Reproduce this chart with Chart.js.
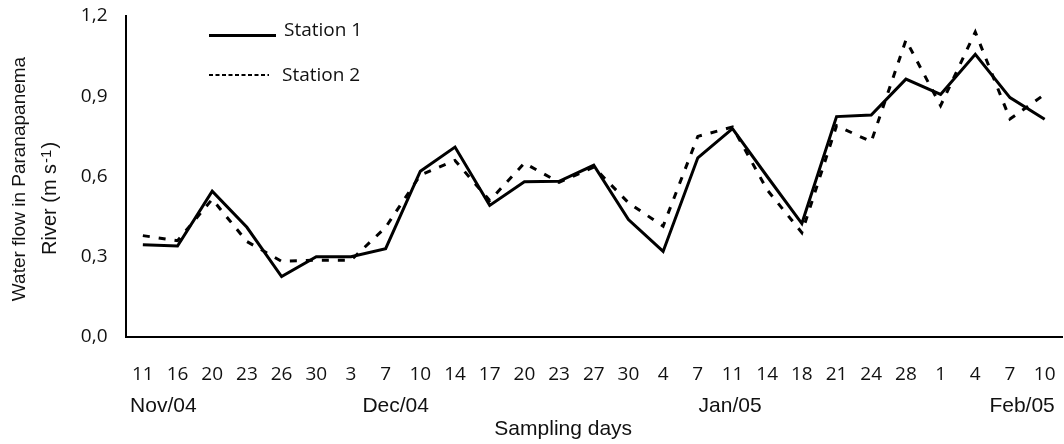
<!DOCTYPE html>
<html><head><meta charset="utf-8">
<script src="https://cdn.jsdelivr.net/npm/chart.js@4.4.1/dist/chart.umd.min.js"></script>
<style>html,body{margin:0;padding:0;background:#fff;}#wrap{width:1064px;height:444px;position:relative;}</style>
</head><body><div id="wrap"><canvas id="c"></canvas></div>
<script>
const days = ['11','16','20','23','26','30','3','7','10','14','17','20','23','27','30','4','7','11','14','18','21','24','28','1','4','7','10'];
const station1 = [0.345,0.34,0.545,0.41,0.226,0.30,0.30,0.33,0.62,0.71,0.492,0.58,0.582,0.642,0.439,0.32,0.67,0.779,0.60,0.424,0.824,0.83,0.964,0.907,1.057,0.895,0.814];
const station2 = [0.379,0.36,0.515,0.357,0.283,0.287,0.287,0.41,0.605,0.66,0.51,0.65,0.578,0.635,0.502,0.414,0.75,0.785,0.55,0.39,0.79,0.73,1.11,0.865,1.14,0.815,0.907];
const seriesNames = ['Station 1','Station 2'];
const yTickLabels = ['0,0','0,3','0,6','0,9','1,2'];
const months = ['Nov/04','Dec/04','Jan/05','Feb/05'];
const monthAt = [0.59, 7.29, 16.93, 25.35];
const xTitle = 'Sampling days';
const xTitleAt = 12.12;
const yTitle1 = 'Water flow in Paranapanema';
const yTitle2 = ['River (m s', '-1', ')'];

const TXT = '#111';
const tickFont = {family: '"Open Sans"', size: 19};

const extras = {
  id: 'extras',
  afterDraw(chart) {
    const ctx = chart.ctx;
    const xs = chart.scales.x;
    ctx.save();
    ctx.fillStyle = TXT;
    ctx.textBaseline = 'alphabetic';
    ctx.textAlign = 'center';
    ctx.font = '21px "Liberation Sans"';
    months.forEach((m, i) => {
      ctx.fillText(m, xs.getPixelForValue(monthAt[i]), xs.top + 74.5);
    });
    ctx.fillText(xTitle, xs.getPixelForValue(xTitleAt), xs.top + 98);

    // y axis title (two lines, rotated)
    ctx.save();
    ctx.translate(19.5, 179);
    ctx.rotate(-Math.PI / 2);
    ctx.textBaseline = 'middle';
    ctx.textAlign = 'center';
    ctx.font = '19px "Liberation Sans"';
    ctx.fillText(yTitle1, 0, 0);
    ctx.restore();
    ctx.save();
    ctx.translate(50.5, 255);
    ctx.rotate(-Math.PI / 2);
    ctx.textBaseline = 'middle';
    ctx.textAlign = 'left';
    let px = 0;
    ctx.font = '20px "Liberation Sans"';
    ctx.fillText(yTitle2[0], px, 0); px += ctx.measureText(yTitle2[0]).width + 1;
    ctx.font = '15px "Liberation Sans"';
    ctx.fillText(yTitle2[1], px, -4); px += ctx.measureText(yTitle2[1]).width + 1;
    ctx.font = '20px "Liberation Sans"';
    ctx.fillText(yTitle2[2], px, 0);
    ctx.restore();

    // legend
    const ds = chart.data.datasets;
    ctx.strokeStyle = '#000';
    ctx.lineWidth = 3;
    ctx.setLineDash([]);
    ctx.beginPath(); ctx.moveTo(209, 35.5); ctx.lineTo(276, 35.5); ctx.stroke();
    ctx.lineWidth = 1.8;
    ctx.setLineDash([4, 2.5]);
    ctx.beginPath(); ctx.moveTo(209, 75); ctx.lineTo(269, 75); ctx.stroke();
    ctx.setLineDash([]);
    ctx.textAlign = 'left';
    ctx.textBaseline = 'alphabetic';
    ctx.font = '19px "Open Sans"';
    ctx.fillText(ds[0].label, 284, 36);
    ctx.fillText(ds[1].label, 282, 80.5);
    ctx.restore();
  }
};

new Chart(document.getElementById('c'), {
  type: 'line',
  data: {
    labels: days,
    datasets: [
      {label: seriesNames[0], data: station1, borderColor: '#000', borderWidth: 3, pointRadius: 0, tension: 0, fill: false, order: 1},
      {label: seriesNames[1], data: station2, borderColor: '#000', borderWidth: 3, borderDash: [7, 9], pointRadius: 0, tension: 0, fill: false, order: 0}
    ]
  },
  options: {
    responsive: true,
    maintainAspectRatio: false,
    animation: false,
    layout: {padding: {top: 16, right: 2, left: 0, bottom: 0}},
    plugins: {legend: {display: false}, tooltip: {enabled: false}},
    scales: {
      x: {
        type: 'category',
        offset: true,
        grid: {display: false, drawTicks: false},
        border: {display: true, color: '#000', width: 2},
        ticks: {color: TXT, font: tickFont, padding: 26, autoSkip: false, maxRotation: 0, minRotation: 0},
        afterFit(s) { s.height = 107; s.paddingLeft = 0; s.paddingRight = 0; }
      },
      y: {
        min: 0, max: 1.2,
        grid: {display: false, drawTicks: false},
        border: {display: true, color: '#000', width: 2},
        ticks: {
          stepSize: 0.3, color: TXT, font: tickFont, padding: 18,
          callback: (v, i) => yTickLabels[i]
        },
        title: {display: false},
        afterFit(s) { s.width = 125.5; s.paddingTop = 0; s.paddingBottom = 0; }
      }
    }
  },
  plugins: [extras]
});
</script></body></html>
